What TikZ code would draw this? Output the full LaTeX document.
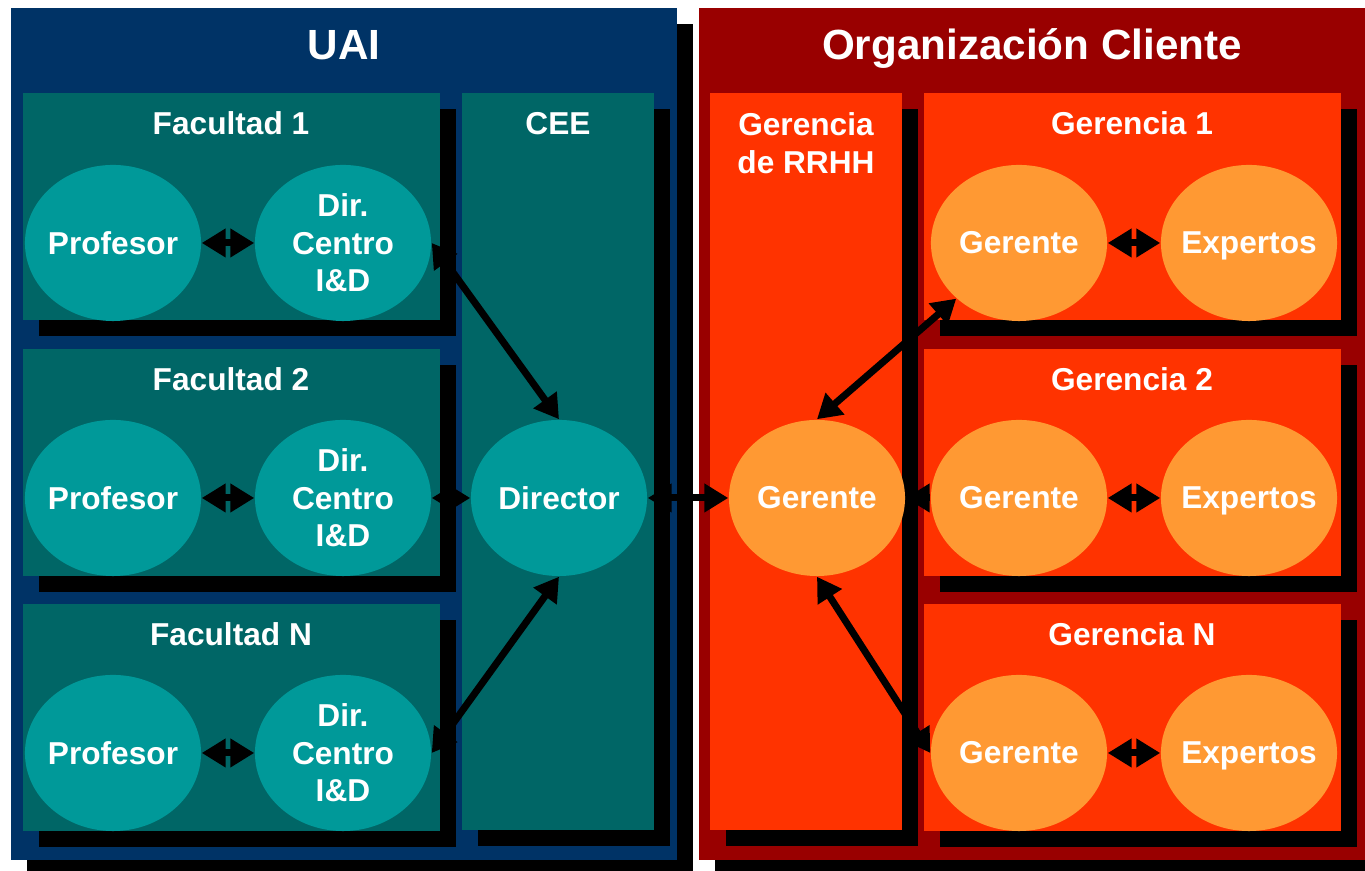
\documentclass[tikz,border=0pt]{standalone}
\usepackage{fontspec}
\setmainfont{Liberation Sans}
\usepackage{xcolor}
\usetikzlibrary{
    arrows.meta,
    shapes.geometric,
    positioning
}
\definecolor{uaiblue}{HTML}{003366}
\definecolor{uaibox}{HTML}{006666}
\definecolor{uaioval}{HTML}{009999}
\definecolor{orgred}{HTML}{990000}
\definecolor{orgbox}{HTML}{FF3300}
\definecolor{orgoval}{HTML}{FF9933}

\begin{document}
\begin{tikzpicture}[x=0.01cm, y=-0.01cm,
    every node/.style={text=white, font=\fontsize{9}{10.7}\selectfont\bfseries},
    bigtitle/.style={font=\fontsize{12}{14.4}\selectfont\bfseries, anchor=base},
    boxtitle/.style={anchor=base},
    oval/.style={ellipse, inner sep=-30pt, minimum width=1.76cm, minimum height=1.56cm, align=center},
    uaioval/.style={oval, fill=uaioval},
    orgoval/.style={oval, fill=orgoval},
    link/.style={line width=2pt, arrows={Triangle[length=6.8pt,width=7.8pt]-Triangle[length=6.8pt,width=7.8pt]}},
    halflink/.style={line width=2pt, arrows={Triangle[length=6.8pt,width=7.8pt]-}}]
                                    \useasboundingbox (0, 0) rectangle (1365, 871);
                                    \clip (0, 0) rectangle (1365, 871);
                                    % UAI
                                    \fill[black] (27, 24) rectangle (693, 876);
                                    \fill[uaiblue] (11, 8) rectangle (677, 860);
                                    \node[bigtitle] (uai) at (344, 60) {UAI};
                                    % Organizacion Cliente
                                    \fill[black] (715, 24) rectangle (1382, 876);
                                    \fill[orgred] (699, 8) rectangle (1366, 860);
                                    \node[bigtitle] (org) at (1032, 60) {Organización Cliente};
                                    \begin{scope}[shift={(23, 93)}]
                                        \fill[black] (16, 16) rectangle (433, 243);
                                        \fill[uaibox] (0, 0) rectangle (417, 227);
                                        \node[boxtitle] (fac1) at (208, 42) {Facultad 1};
                                        \node[uaioval] (prof1) at (90, 150) {Profesor};
                                        \node[uaioval] (dir1) at (320, 150) {Dir.\\Centro\\I\&D};
                                    \end{scope}
                                    \begin{scope}[shift={(23, 349)}]
                                        \fill[black] (16, 16) rectangle (433, 243);
                                        \fill[uaibox] (0, 0) rectangle (417, 227);
                                        \node[boxtitle] (fac2) at (208, 42) {Facultad 2};
                                        \node[uaioval] (prof2) at (90, 149) {Profesor};
                                        \node[uaioval] (dir2) at (320, 149) {Dir.\\Centro\\I\&D};
                                    \end{scope}
                                    \begin{scope}[shift={(23, 604)}]
                                        \fill[black] (16, 16) rectangle (433, 243);
                                        \fill[uaibox] (0, 0) rectangle (417, 227);
                                        \node[boxtitle] (facN) at (208, 42) {Facultad N};
                                        \node[uaioval] (profN) at (90, 149) {Profesor};
                                        \node[uaioval] (dirN) at (320, 149) {Dir.\\Centro\\I\&D};
                                    \end{scope}
                                    \begin{scope}[shift={(462, 93)}]
                                        \fill[black] (16, 16) rectangle (208, 753);
                                        \fill[uaibox] (0, 0) rectangle (192, 737);
                                        \node[boxtitle] (cee) at (96, 42) {CEE};
                                        \node[uaioval] (director) at (97, 405) {Director};
                                    \end{scope}
                                    \begin{scope}[shift={(710, 93)}]
                                        \fill[black] (16, 16) rectangle (208, 753);
                                        \fill[orgbox] (0, 0) rectangle (192, 737);
                                        \node[align=center] (rrhh) at (96, 50) {Gerencia\\de RRHH};
                                        \node[orgoval] (gerRH) at (107, 405) {Gerente};
                                    \end{scope}
                                    \begin{scope}[shift={(924, 93)}]
                                        \fill[black] (16, 16) rectangle (433, 243);
                                        \fill[orgbox] (0, 0) rectangle (417, 227);
                                        \node[boxtitle] (gcia1) at (208, 42) {Gerencia 1};
                                        \node[orgoval] (ger1) at (95, 150) {Gerente};
                                        \node[orgoval, text depth=0pt] (exp1) at (325, 150) {Expertos};
                                    \end{scope}
                                    \begin{scope}[shift={(924, 349)}]
                                        \fill[black] (16, 16) rectangle (433, 243);
                                        \fill[orgbox] (0, 0) rectangle (417, 227);
                                        \node[boxtitle] (gcia2) at (208, 42) {Gerencia 2};
                                        \node[orgoval] (ger2) at (95, 149) {Gerente};
                                        \node[orgoval, text depth=0pt] (exp2) at (325, 149) {Expertos};
                                    \end{scope}
                                    \begin{scope}[shift={(924, 604)}]
                                        \fill[black] (16, 16) rectangle (433, 243);
                                        \fill[orgbox] (0, 0) rectangle (417, 227);
                                        \node[boxtitle] (gciaN) at (208, 42) {Gerencia N};
                                        \node[orgoval] (gerN) at (95, 149) {Gerente};
                                        \node[orgoval, text depth=0pt] (expN) at (325, 149) {Expertos};
                                    \end{scope}
                                    \draw[link] (prof1) -- (dir1);
                                    \draw[link] (prof2) -- (dir2);
                                    \draw[link] (profN) -- (dirN);
                                    \draw[link] (dir1.east) -- (director.north);
                                    \draw[link] (dir2) -- (director);
                                    \draw[link] (dirN.east) -- (director.south);
                                    \draw[link] (director) -- (gerRH);
                                    \draw[link] (gerRH.north) -- (ger1.south west);
                                    \draw[halflink] (gerRH) -- (ger2);
                                    \draw[link] (gerRH.south) -- (gerN.west);
                                    \draw[link] (ger1) -- (exp1);
                                    \draw[link] (ger2) -- (exp2);
                                    \draw[link] (gerN) -- (expN);
                                \end{tikzpicture}
\end{document}
